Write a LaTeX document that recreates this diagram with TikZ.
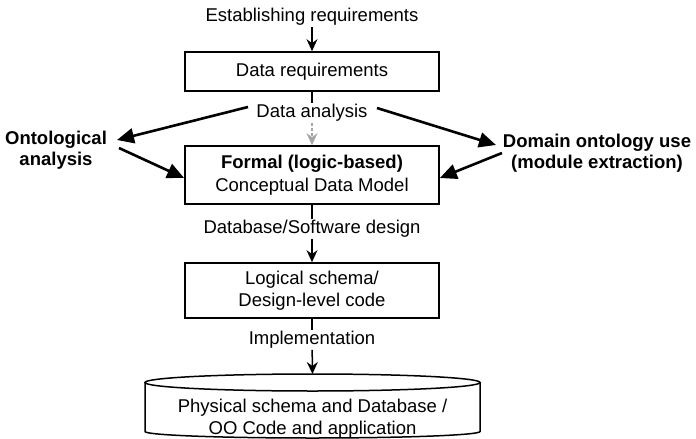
\documentclass[tikz,border=0pt]{standalone}
\usepackage{fontspec}
\setmainfont{Liberation Sans}
\usetikzlibrary{arrows.meta}
\begin{document}
\begin{tikzpicture}[x=1pt,y=-1pt,
  every node/.style={font=\fontsize{18.5}{22.5}\selectfont},
  procbox/.style={draw, line width=1.7pt, minimum width=254pt, align=center, inner sep=2pt},
  lbl/.style={inner sep=1pt, align=center},
  side/.style={font=\bfseries\fontsize{18.5}{20.5}\selectfont, align=center, inner sep=1pt},
  vline/.style={line width=1.5pt},
  varrow/.style={line width=1.5pt, -{Stealth[length=12pt,width=11pt,inset=4pt]}},
  bigarrow/.style={line width=2.6pt, -{Triangle[length=17pt,width=15pt]}}
]
\useasboundingbox (0,0) rectangle (696,439);

\node[lbl] (est) at (312,17) {Establishing requirements};
\node[procbox, minimum height=39pt] (dr) at (312,71.5) {Data requirements};
\node[lbl] (da) at (312,113) {Data analysis};
\node[procbox, minimum height=58pt] (cdm) at (312,175) {\textbf{Formal (logic-based)}\\Conceptual Data Model};
\node[lbl] (dsd) at (312,229) {Database/Software design};
\node[procbox, minimum height=55pt] (ls) at (312,290.5) {Logical schema/\\Design-level code};
\node[lbl] (impl) at (312,340) {Implementation};

\node[side] (oa) at (56,150) {Ontological\\analysis};
\node[side] (dou) at (597,153) {Domain ontology use\\(module extraction)};

% cylinder
\coordinate (cyltop) at (312.5,374);
\draw[line width=1.5pt, fill=white] (145,382.5) -- (145,431.5) arc[start angle=180, end angle=0, x radius=167.5, y radius=6.5] -- (480,382.5);
\draw[line width=1.5pt] (312.5,382.5) ellipse[x radius=167.5, y radius=8.5];
\node[lbl] (phys) at (312.5,418.5) {Physical schema and Database /\\OO Code and application};

% vertical connectors
\draw[varrow] (est) -- (dr);
\draw[vline] (dr) -- (da);
\draw[line width=1.3pt, draw=black!35, dash pattern=on 3pt off 2pt, -{Stealth[length=12pt,width=11pt,inset=4pt,fill=black!35]}] (da) -- (cdm);
\draw[vline] (cdm) -- (dsd);
\draw[varrow] (dsd) -- (ls);
\draw[vline] (ls) -- (impl);
\draw[varrow] (impl) -- (cyltop);

% side arrows
\coordinate (dal) at (248,107);
\coordinate (dar) at (377,108);
\coordinate (oain) at (117,140);
\coordinate (oaout) at (119,148);
\coordinate (douin) at (496,145);
\coordinate (douout) at (502,153);
\draw[bigarrow] (dal) -- (oain);
\draw[bigarrow] (oaout) -- ([yshift=-3pt]cdm.west);
\draw[bigarrow] (dar) -- (douin);
\draw[bigarrow] (douout) -- ([yshift=-3pt]cdm.east);
\end{tikzpicture}
\end{document}
